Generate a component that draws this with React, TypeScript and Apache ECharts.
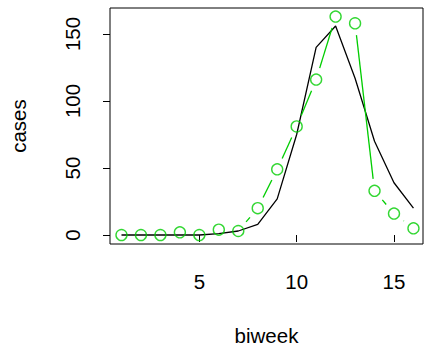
import React, { useEffect, useRef } from "react";
import * as echarts from "echarts";

const biweek = [1, 2, 3, 4, 5, 6, 7, 8, 9, 10, 11, 12, 13, 14, 15, 16];
const observed = [0, 0, 0, 2, 0, 4, 3, 20, 49, 81, 116, 163, 158, 33, 16, 5];
const fitted = [0, 0, 0, 0, 0, 1, 3, 8, 27, 75, 140, 156, 117, 70, 39, 20];
const xTicks = [5, 10, 15];
const yTicks = [0, 50, 100, 150];

const GREEN = "#00CD00";
const FONT = "Liberation Sans, Arial, Helvetica, sans-serif";
const GAP = 12;

export default function App() {
  const ref = useRef<HTMLDivElement>(null);
  useEffect(() => {
    if (!ref.current) return;
    const chart = echarts.init(ref.current, null, { renderer: "svg" });
    const segs = biweek.slice(0, -1).map((x, i) => [x, observed[i], biweek[i + 1], observed[i + 1]]);
    const axisText = { color: "#000", fontFamily: FONT, fontSize: 20.5 };
    chart.setOption({
      animation: false,
      grid: { left: 110, right: 2, top: 8, bottom: 109, show: true, borderColor: "#000", borderWidth: 1, backgroundColor: "transparent" },
      xAxis: {
        type: "value", min: 0.41, max: 16.49,
        name: "biweek", nameLocation: "middle", nameGap: 81,
        nameTextStyle: { ...axisText },
        axisLine: { show: false },
        axisTick: { show: true, length: 7, customValues: xTicks, lineStyle: { color: "#000", width: 1 } },
        axisLabel: { ...axisText, margin: 27, customValues: xTicks },
        splitLine: { show: false },
      },
      yAxis: {
        type: "value", min: -6.7, max: 169.4,
        name: "cases", nameLocation: "middle", nameGap: 81,
        nameTextStyle: { ...axisText },
        axisLine: { show: false },
        axisTick: { show: true, length: 7, customValues: yTicks, lineStyle: { color: "#000", width: 1 } },
        axisLabel: { ...axisText, margin: 27, rotate: 90, customValues: yTicks },
        splitLine: { show: false },
      },
      series: [
        {
          type: "line",
          data: biweek.map((x, i) => [x, fitted[i]]),
          showSymbol: false,
          lineStyle: { color: "#000", width: 1.3 },
          z: 2,
        },
        {
          type: "custom",
          data: segs,
          encode: { x: [0, 2], y: [1, 3] },
          renderItem: (params: any, api: any) => {
            const p1 = api.coord([api.value(0), api.value(1)]);
            const p2 = api.coord([api.value(2), api.value(3)]);
            const dx = p2[0] - p1[0];
            const dy = p2[1] - p1[1];
            const d = Math.sqrt(dx * dx + dy * dy);
            if (d <= 2 * GAP) return null;
            const ux = dx / d, uy = dy / d;
            return {
              type: "line",
              shape: { x1: p1[0] + ux * GAP, y1: p1[1] + uy * GAP, x2: p2[0] - ux * GAP, y2: p2[1] - uy * GAP },
              style: { stroke: GREEN, lineWidth: 1.3 },
            };
          },
          z: 3,
        },
        {
          type: "scatter",
          data: biweek.map((x, i) => [x, observed[i]]),
          symbol: "circle",
          symbolSize: 11,
          itemStyle: { color: "rgba(0,0,0,0)", borderColor: GREEN, borderWidth: 1.4 },
          z: 4,
        },
      ],
    });
    return () => chart.dispose();
  }, []);
  return <div ref={ref} style={{ position: "absolute", left: 0, top: 0, width: 425, height: 353 }} />;
}
